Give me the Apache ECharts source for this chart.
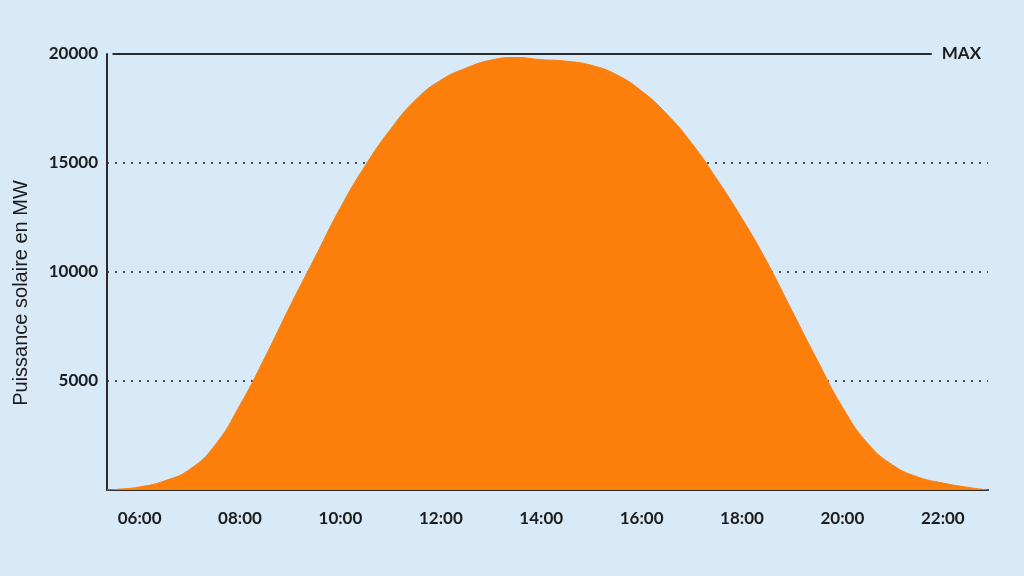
<!DOCTYPE html>
<html>
<head>
<meta charset="utf-8">
<script src="https://cdn.jsdelivr.net/npm/echarts@6/dist/echarts.min.js"></script>
<style>
html,body{margin:0;padding:0;background:#d8e9f8;}
#c{width:1024px;height:576px;}
</style>
</head>
<body>
<div id="c"></div>
<script>
// hours (decimal) and solar power in MW
var hours = [5.35, 5.5, 6, 6.5, 7, 7.5, 8, 8.5, 9, 9.5, 10, 10.5, 11, 11.5, 12, 12.5, 13, 13.5, 14, 14.5, 15, 15.5, 16, 16.5, 17, 17.5, 18, 18.5, 19, 19.5, 20, 20.5, 21, 21.5, 22, 22.5, 22.9];
var power = [0, 20, 140, 420, 950, 2050, 3900, 6100, 8450, 10700, 12950, 14900, 16550, 17900, 18800, 19350, 19720, 19840, 19740, 19670, 19480, 19050, 18300, 17250, 15900, 14250, 12450, 10450, 8200, 5950, 3800, 2150, 1150, 600, 320, 120, 0];
var xTickValues = [6, 8, 10, 12, 14, 16, 18, 20, 22];
var maxValue = 20000;
var maxLineStart = 5.46, maxLineEnd = 21.78;
var yName = 'Puissance solaire en MW';
var maxLabel = 'MAX';

var chart = echarts.init(document.getElementById('c'));
var font = 'Lato';
var textColor = '#1c1c1c';
chart.setOption({
  backgroundColor: '#d8e9f8',
  animation: false,
  grid: {left: 107, right: 36, top: 54, bottom: 86},
  xAxis: {
    type: 'value',
    min: 5.35,
    max: 22.9,
    axisLine: {show: true, lineStyle: {color: '#2a2a2a', width: 2}},
    axisTick: {show: false},
    splitLine: {show: false},
    axisLabel: {
      customValues: xTickValues,
      margin: 20,
      fontFamily: font, fontSize: 17, fontWeight: 'bold', color: textColor,
      formatter: function (v) { var h = Math.round(v); return (h < 10 ? '0' : '') + h + ':00'; }
    }
  },
  yAxis: {
    type: 'value',
    min: 0,
    max: 20000,
    interval: 5000,
    name: yName,
    nameLocation: 'middle',
    nameGap: 76,
    nameTextStyle: {fontFamily: 'Liberation Sans', fontSize: 20, color: textColor, padding: [0, 42, 0, 0]},
    axisLine: {show: true, lineStyle: {color: '#2a2a2a', width: 2}},
    axisTick: {show: false},
    axisLabel: {
      margin: 9,
      fontFamily: font, fontSize: 17, fontWeight: 'bold', color: textColor,
      formatter: function (v) { return v === 0 ? '' : String(v); }
    },
    splitLine: {
      show: true,
      lineStyle: {color: ['rgba(0,0,0,0)', '#4a4f55', '#4a4f55', '#4a4f55', 'rgba(0,0,0,0)'], type: [2, 6], width: 1.8}
    }
  },
  series: [{
    type: 'line',
    data: hours.map(function (h, i) { return [h, power[i]]; }),
    smooth: 0.5,
    symbol: 'none',
    lineStyle: {color: '#fc7f0c', width: 1},
    areaStyle: {color: '#fc7f0c', opacity: 1},
    z: 2,
    markLine: {
      silent: true,
      symbol: 'none',
      lineStyle: {color: '#2a2a2a', type: 'solid', width: 2},
      label: {show: true, position: 'end', formatter: maxLabel, fontFamily: font, fontSize: 17, fontWeight: 'bold', color: textColor, distance: 10},
      data: [[{coord: [maxLineStart, maxValue]}, {coord: [maxLineEnd, maxValue]}]]
    }
  }]
});
</script>
</body>
</html>
